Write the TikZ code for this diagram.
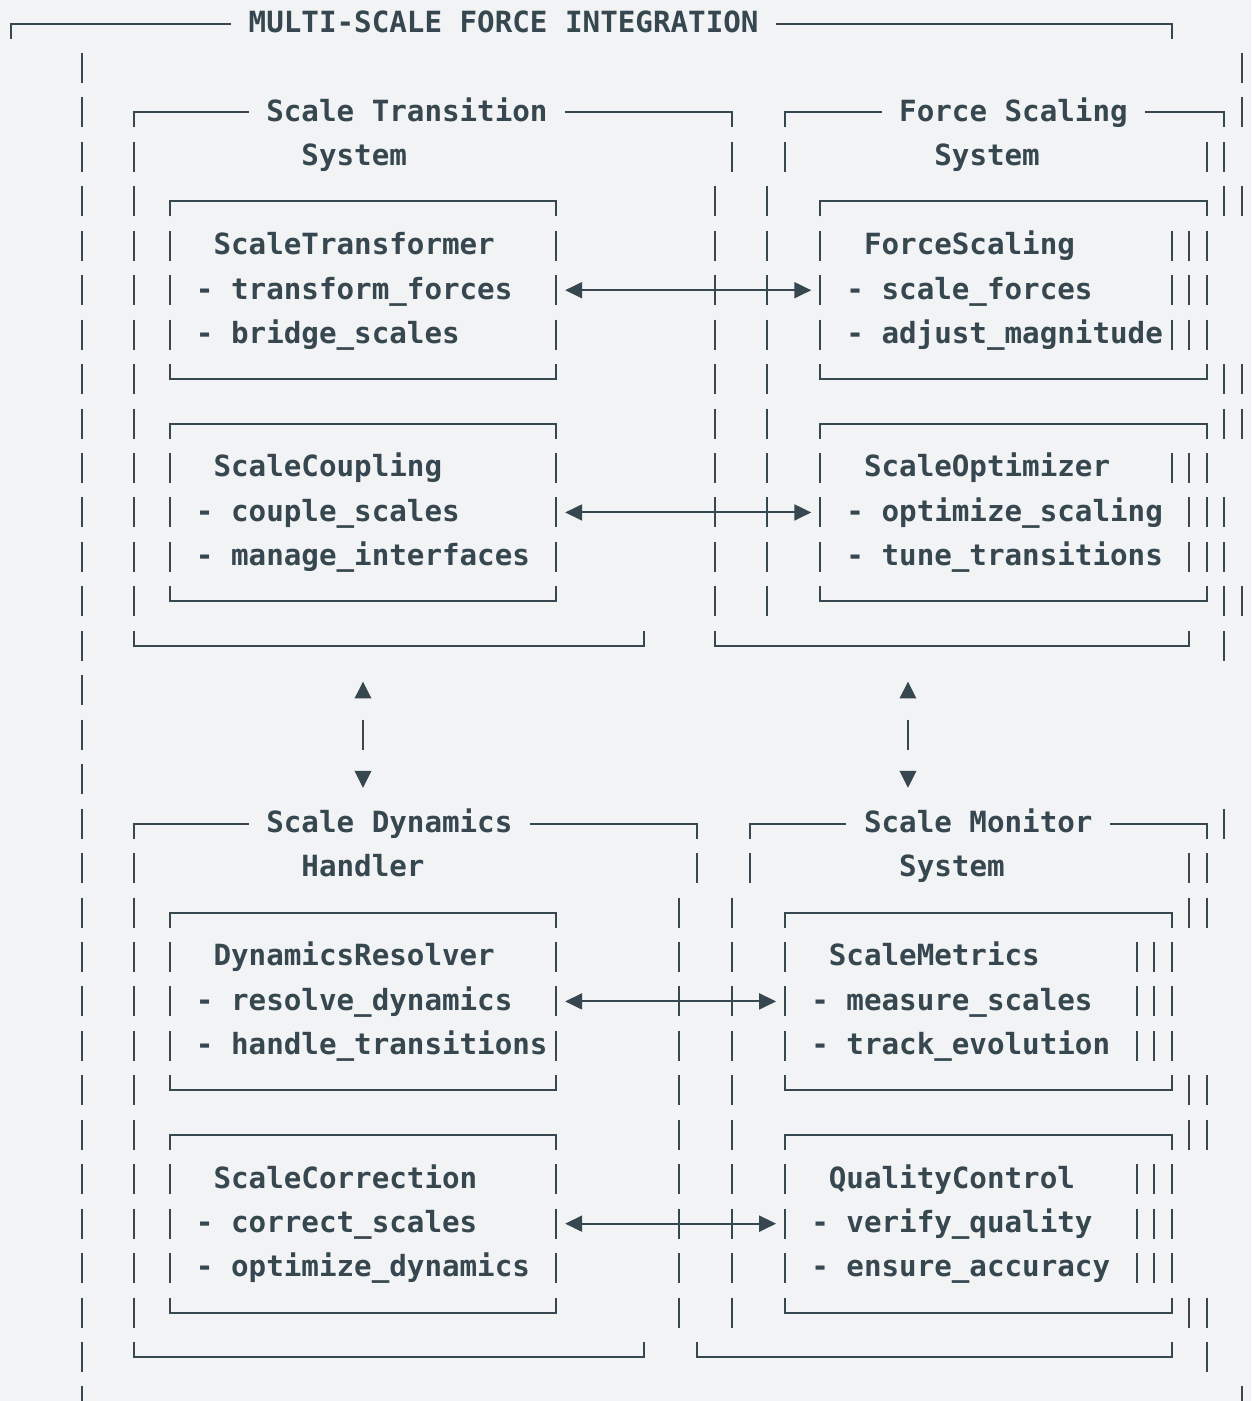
\documentclass[tikz,border=0pt]{standalone}
\usepackage{fontspec}
\setmonofont{DejaVu Sans Mono}
\usetikzlibrary{arrows.meta,calc}
\definecolor{ink}{HTML}{37474F}
\definecolor{bgc}{HTML}{F1F3F5}
\tikzset{
  declare function={lx(\c)=2.6+17.58*\c; cx(\c)=2.6+17.58*\c+8.79; ry(\r)=23.5+44.45*\r;},
  ln/.style={draw=ink, line width=2pt, line cap=butt, line join=miter},
  txt/.style={text=ink, font=\ttfamily\bfseries\fontsize{29.2}{35}\selectfont, anchor=base west, inner sep=0pt, outer sep=0pt},
  dbl/.style={ln, {Triangle[length=17pt,width=16pt]}-{Triangle[length=17pt,width=16pt]}},
  tri/.style={fill=ink, draw=none}
}
% vertical bar glyphs at column #1 for the rows in list #2
\newcommand\VB[2]{\foreach \rr in {#2}{\draw[ln] ({cx(#1)},{ry(\rr)-15}) -- ({cx(#1)},{ry(\rr)+15});}}
% box top (corners at columns #1 and #2, row #3)
\newcommand\TOPB[3]{\draw[ln] ({cx(#1)},{ry(#3)+15}) -- ({cx(#1)},{ry(#3)}) -- ({cx(#2)},{ry(#3)}) -- ({cx(#2)},{ry(#3)+15});}
% box bottom
\newcommand\BOTB[3]{\draw[ln] ({cx(#1)},{ry(#3)-15}) -- ({cx(#1)},{ry(#3)}) -- ({cx(#2)},{ry(#3)}) -- ({cx(#2)},{ry(#3)-15});}
% titled box top: corner #1, last dash #2, first dash #3, corner #4, row #5
\newcommand\TOPT[5]{%
  \draw[ln] ({cx(#1)},{ry(#5)+15}) -- ({cx(#1)},{ry(#5)}) -- ({lx(#2+1)},{ry(#5)});
  \draw[ln] ({lx(#3)},{ry(#5)}) -- ({cx(#4)},{ry(#5)}) -- ({cx(#4)},{ry(#5)+15});}
\begin{document}
\begin{tikzpicture}[x=1pt,y=-1pt]
\fill[bgc] (0,0) rectangle (1251,1401);
\useasboundingbox (0,0) rectangle (1251,1401);

% ---------- outer frame ----------
\TOPT{0}{12}{44}{66}{0}
\node[txt] (title) at ({lx(14)},{ry(0)+8.8}) {MULTI-SCALE FORCE INTEGRATION};
\VB{4}{1,...,31}
\VB{70}{1,2,4,8,9,13,31}
\VB{69}{3,4,8,9,11,12,13,14,18}
\VB{68}{3,5,6,7,10,11,12,19,20,24,25,29,30}
\VB{67}{5,6,7,10,11,12,19,20,24,25,29}
\VB{66}{5,6,7,10,21,22,23,26,27,28}
\VB{65}{21,22,23,26,27,28}
\VB{64}{21,22,23,26,27,28}

% ---------- Scale Transition System ----------
\TOPT{7}{13}{32}{41}{2}
\node[txt] (stA) at ({lx(15)},{ry(2)+8.8}) {Scale Transition};
\node[txt] (stB) at ({lx(17)},{ry(3)+8.8}) {System};
\VB{7}{3,...,13}
\VB{41}{3}
\VB{40}{4,...,13}
\BOTB{7}{36}{14}

\TOPB{9}{31}{4}
\VB{9}{5,6,7}\VB{31}{5,6,7}
\BOTB{9}{31}{8}
\node[txt] (stf) at ({lx(12)},{ry(5)+8.8}) {ScaleTransformer};
\node[txt] (stf1) at ({lx(11)},{ry(6)+8.8}) {- transform\_forces};
\node[txt] (stf2) at ({lx(11)},{ry(7)+8.8}) {- bridge\_scales};

\TOPB{9}{31}{9}
\VB{9}{10,11,12}\VB{31}{10,11,12}
\BOTB{9}{31}{13}
\node[txt] (scp) at ({lx(12)},{ry(10)+8.8}) {ScaleCoupling};
\node[txt] (scp1) at ({lx(11)},{ry(11)+8.8}) {- couple\_scales};
\node[txt] (scp2) at ({lx(11)},{ry(12)+8.8}) {- manage\_interfaces};

% ---------- Force Scaling System ----------
\TOPT{44}{49}{65}{69}{2}
\node[txt] (fsA) at ({lx(51)},{ry(2)+8.8}) {Force Scaling};
\node[txt] (fsB) at ({lx(53)},{ry(3)+8.8}) {System};
\VB{44}{3}
\VB{43}{4,...,13}
\BOTB{40}{67}{14}

\TOPB{46}{68}{4}
\VB{46}{5,6,7}
\BOTB{46}{68}{8}
\node[txt] (fsc) at ({lx(49)},{ry(5)+8.8}) {ForceScaling};
\node[txt] (fsc1) at ({lx(48)},{ry(6)+8.8}) {- scale\_forces};
\node[txt] (fsc2) at ({lx(48)},{ry(7)+8.8}) {- adjust\_magnitude};

\TOPB{46}{68}{9}
\VB{46}{10,11,12}
\BOTB{46}{68}{13}
\node[txt] (sop) at ({lx(49)},{ry(10)+8.8}) {ScaleOptimizer};
\node[txt] (sop1) at ({lx(48)},{ry(11)+8.8}) {- optimize\_scaling};
\node[txt] (sop2) at ({lx(48)},{ry(12)+8.8}) {- tune\_transitions};

% horizontal links, upper half
\coordinate (stfR) at ({lx(32)},{ry(6)});
\coordinate (fscL) at ({lx(46)},{ry(6)});
\draw[dbl] (stfR) -- (fscL);
\coordinate (scpR) at ({lx(32)},{ry(11)});
\coordinate (sopL) at ({lx(46)},{ry(11)});
\draw[dbl] (scpR) -- (sopL);

% ---------- vertical links ----------
\foreach \cc/\nm in {20/L,51/R}{
  \coordinate (up\nm) at ({cx(\cc)},{ry(15)});
  \coordinate (dn\nm) at ({cx(\cc)},{ry(17)});
  \fill[tri] ($(up\nm)+(0,-8.6)$) -- ++(8.5,16.8) -- ++(-17,0) -- cycle;
  \fill[tri] ($(dn\nm)+(0,8.6)$) -- ++(8.5,-16.8) -- ++(-17,0) -- cycle;
}
\VB{20}{16}
\VB{51}{16}

% ---------- Scale Dynamics Handler ----------
\TOPT{7}{13}{30}{39}{18}
\node[txt] (sdA) at ({lx(15)},{ry(18)+8.8}) {Scale Dynamics};
\node[txt] (sdB) at ({lx(17)},{ry(19)+8.8}) {Handler};
\VB{7}{19,...,29}
\VB{39}{19}
\VB{38}{20,...,29}
\BOTB{7}{36}{30}

\TOPB{9}{31}{20}
\VB{9}{21,22,23}\VB{31}{21,22,23}
\BOTB{9}{31}{24}
\node[txt] (dr) at ({lx(12)},{ry(21)+8.8}) {DynamicsResolver};
\node[txt] (dr1) at ({lx(11)},{ry(22)+8.8}) {- resolve\_dynamics};
\node[txt] (dr2) at ({lx(11)},{ry(23)+8.8}) {- handle\_transitions};

\TOPB{9}{31}{25}
\VB{9}{26,27,28}\VB{31}{26,27,28}
\BOTB{9}{31}{29}
\node[txt] (sc) at ({lx(12)},{ry(26)+8.8}) {ScaleCorrection};
\node[txt] (sc1) at ({lx(11)},{ry(27)+8.8}) {- correct\_scales};
\node[txt] (sc2) at ({lx(11)},{ry(28)+8.8}) {- optimize\_dynamics};

% ---------- Scale Monitor System ----------
\TOPT{42}{47}{63}{68}{18}
\node[txt] (smA) at ({lx(49)},{ry(18)+8.8}) {Scale Monitor};
\node[txt] (smB) at ({lx(51)},{ry(19)+8.8}) {System};
\VB{42}{19}
\VB{41}{20,...,29}
\BOTB{39}{66}{30}

\TOPB{44}{66}{20}
\VB{44}{21,22,23}
\BOTB{44}{66}{24}
\node[txt] (sm) at ({lx(47)},{ry(21)+8.8}) {ScaleMetrics};
\node[txt] (sm1) at ({lx(46)},{ry(22)+8.8}) {- measure\_scales};
\node[txt] (sm2) at ({lx(46)},{ry(23)+8.8}) {- track\_evolution};

\TOPB{44}{66}{25}
\VB{44}{26,27,28}
\BOTB{44}{66}{29}
\node[txt] (qc) at ({lx(47)},{ry(26)+8.8}) {QualityControl};
\node[txt] (qc1) at ({lx(46)},{ry(27)+8.8}) {- verify\_quality};
\node[txt] (qc2) at ({lx(46)},{ry(28)+8.8}) {- ensure\_accuracy};

% horizontal links, lower half
\coordinate (drR) at ({lx(32)},{ry(22)});
\coordinate (smL) at ({lx(44)},{ry(22)});
\draw[dbl] (drR) -- (smL);
\coordinate (scR) at ({lx(32)},{ry(27)});
\coordinate (qcL) at ({lx(44)},{ry(27)});
\draw[dbl] (scR) -- (qcL);
\end{tikzpicture}
\end{document}
